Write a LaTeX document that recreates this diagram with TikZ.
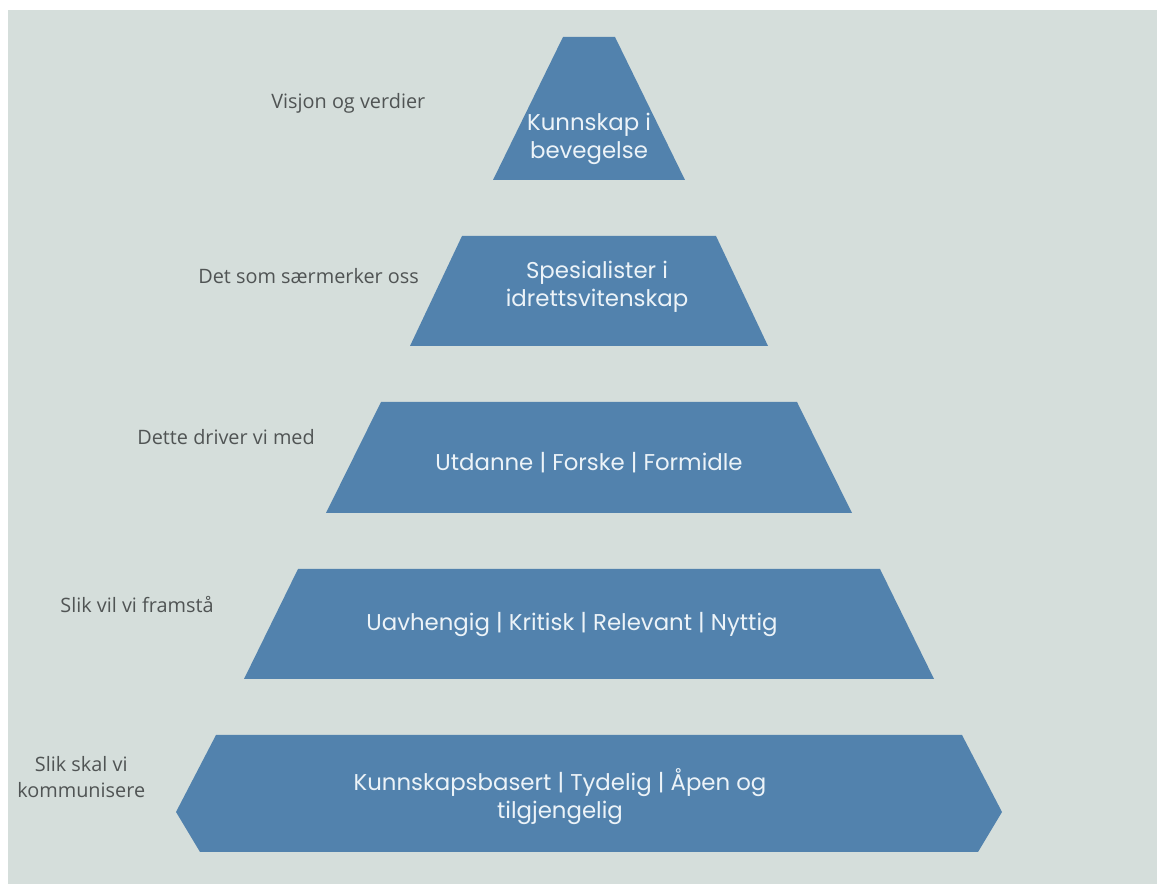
\documentclass[tikz,border=0pt]{standalone}
\usepackage{fontspec}
\setmainfont{Open Sans}
\newfontfamily\boxfont{Poppins}
\usetikzlibrary{positioning}
\definecolor{steel}{RGB}{82,130,173}
\definecolor{paper}{RGB}{213,222,219}
\definecolor{boxtext}{RGB}{236,243,248}
\definecolor{labeltext}{RGB}{80,84,84}
\tikzset{
  layer/.style={fill=steel, draw=none},
  layertext/.style={text=boxtext, align=center, font=\boxfont\fontsize{13}{16}\selectfont},
  sidelabel/.style={text=labeltext, anchor=west, align=center, inner sep=0pt, font=\fontsize{11.3}{15}\selectfont}
}

\begin{document}
\begin{tikzpicture}[x=0.02cm, y=-0.02cm]
\useasboundingbox (0,0) rectangle (1157,884);
\fill[white] (0,0) rectangle (1157,884);
\fill[paper] (8,10) rectangle (1157,884);

% the four trapezoid layers: top y, bottom y, top half width, bottom half width
\foreach \ya/\yb/\wa/\wb in {37/180/26/96, 236/346/127/179, 402/513/208/263, 569/679/291/345} {
  \fill[layer] (589-\wa,\ya) -- (589+\wa,\ya) -- (589+\wb,\yb) -- (589-\wb,\yb) -- cycle;
}
% bottom layer is a flat hexagon
\fill[layer] (216,735) -- (962,735) -- (1002,812) -- (978,852) -- (200,852) -- (176,812) -- cycle;

\node[layertext] (t1) at (589,139) {Kunnskap i\\bevegelse};
\node[layertext] (t2) at (597,287) {Spesialister i\\idrettsvitenskap};
\node[layertext] (t3) at (589,463) {Utdanne | Forske | Formidle};
\node[layertext] (t4) at (572,625) {Uavhengig | Kritisk | Relevant | Nyttig};
\node[layertext] (t5) at (560,797) {Kunnskapsbasert | Tydelig | Åpen og\\tilgjengelig};

\node[sidelabel] (l1) at (271,103) {Visjon og verdier};
\node[sidelabel] (l2) at (198,276) {Det som særmerker oss};
\node[sidelabel] (l3) at (137,437) {Dette driver vi med};
\node[sidelabel] (l4) at (60,605) {Slik vil vi framstå};
\node[sidelabel] (l5) at (17,777) {Slik skal vi\\kommunisere};
\end{tikzpicture}
\end{document}
